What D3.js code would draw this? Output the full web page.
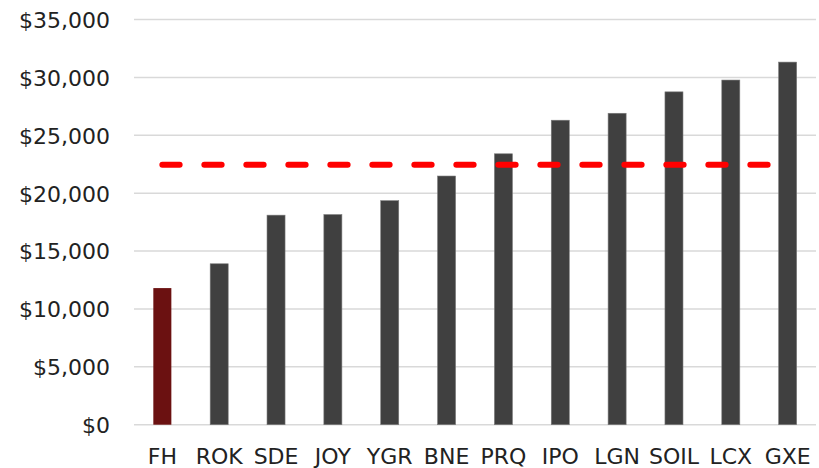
<!DOCTYPE html>
<html>
<head>
<meta charset="utf-8">
<script src="https://cdn.jsdelivr.net/npm/d3@7"></script>
<style>
  html, body { margin: 0; padding: 0; background: #fff; }
  svg text { font-family: "DejaVu Sans", sans-serif; fill: #222; }
</style>
</head>
<body>
<svg id="chart" width="819" height="468"></svg>
<script>
const categories = ["FH", "ROK", "SDE", "JOY", "YGR", "BNE", "PRQ", "IPO", "LGN", "SOIL", "LCX", "GXE"];
const values = [11800, 13900, 18100, 18150, 19350, 21480, 23400, 26300, 26900, 28750, 29770, 31320];
const average = [22450];
const yTicks = [0, 5000, 10000, 15000, 20000, 25000, 30000, 35000];
const highlight = ["FH"];

const svg = d3.select("#chart");
const margin = { left: 134, right: 3, top: 19.5, bottom: 43.3 };
const W = 819, H = 468;

const x = d3.scaleBand().domain(categories).range([margin.left, W - margin.right]).paddingInner(0.683).paddingOuter(0.34);
const y = d3.scaleLinear().domain([0, 35000]).range([H - margin.bottom, margin.top]);

// gridlines
svg.append("g").selectAll("line").data(yTicks).join("line")
  .attr("x1", margin.left).attr("x2", W - margin.right)
  .attr("y1", d => y(d)).attr("y2", d => y(d))
  .attr("stroke", "#d9d9d9").attr("stroke-width", 1.5);

// y axis
const fmt = d3.format("$,.0f");
const yAxis = svg.append("g").attr("transform", `translate(${margin.left - 24},0)`)
  .call(d3.axisLeft(y).tickValues(yTicks).tickFormat(fmt).tickSize(0).tickPadding(0));
yAxis.select(".domain").remove();
yAxis.selectAll("text").style("font-size", "22px").attr("dy", "0.36em").style("fill", "#222");

// bars
svg.append("g").selectAll("rect").data(categories).join("rect")
  .attr("x", d => x(d))
  .attr("width", x.bandwidth())
  .attr("y", (d, i) => y(values[i]))
  .attr("height", (d, i) => y(0) - y(values[i]))
  .attr("fill", d => highlight.includes(d) ? "#6b1111" : "#404040")
  .attr("stroke", d => highlight.includes(d) ? "none" : "#7a7a7a")
  .attr("stroke-width", 0.6);

// x axis labels
const xAxis = svg.append("g").attr("transform", `translate(0,${y(0)})`)
  .call(d3.axisBottom(x).tickSize(0).tickPadding(39));
xAxis.select(".domain").remove();
xAxis.selectAll("text").style("font-size", "22px").attr("dy", "0").style("fill", "#222");

// average dashed line
const line = d3.line().x(d => d[0]).y(d => d[1]);
svg.append("path")
  .datum([[x(categories[0]) + x.bandwidth() / 2, y(average[0])], [x(categories[categories.length - 1]) + x.bandwidth() / 2, y(average[0])]])
  .attr("d", line)
  .attr("fill", "none")
  .attr("stroke", "#ff0000")
  .attr("stroke-width", 6)
  .attr("stroke-linecap", "round")
  .attr("stroke-dasharray", "17.3,24.7");
</script>
</body>
</html>
